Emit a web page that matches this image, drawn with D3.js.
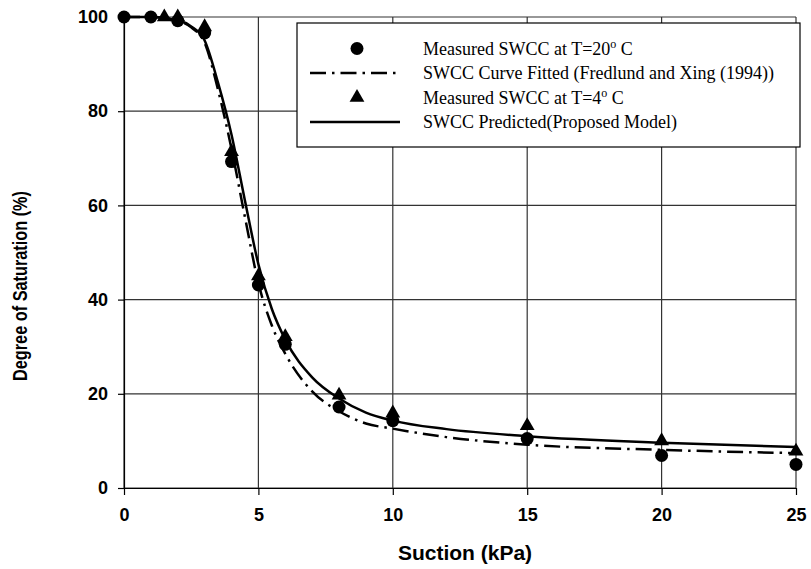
<!DOCTYPE html>
<meta charset="utf-8">
<style>
  body { margin: 0; background: #fff; }
  .axis text { font: bold 18px Arial, "Liberation Sans", sans-serif; fill: #000; }
  .axis path, .axis line { stroke: #000; stroke-width: 1.2; }
  .grid line { stroke: #333; stroke-width: 1.2; }
  .legend text { font: 18px "Times New Roman", "Liberation Serif", serif; fill: #000; }
</style>
<svg width="811" height="569"></svg>
<script src="https://cdn.jsdelivr.net/npm/d3@7"></script>
<script>
// measured points, T = 20 C (circles)
var suction20 = [0, 1, 2, 3, 4, 5, 6, 8, 10, 15, 20, 25];
var sat20     = [100, 100, 99.2, 96.6, 69.3, 43.1, 30.5, 17.2, 14.3, 10.5, 6.9, 5.0];

// measured points, T = 4 C (triangles)
var suction4 = [1.5, 2, 3, 4, 5, 6, 8, 10, 15, 20, 25];
var sat4     = [100, 100, 97.9, 71.4, 45.0, 32.1, 19.7, 15.9, 13.2, 10.0, 7.8];

// fitted curve, Fredlund and Xing (1994) (dash-dot)
var fitX = [0, 1, 2, 2.5, 3, 3.5, 4, 4.5, 5, 5.5, 6, 7, 8, 9, 10, 12, 15, 20, 25];
var fitY = [100, 100, 99.2, 97.8, 94.5, 84.5, 72, 57.5, 43.5, 34.5, 28.5, 20.5, 16.3, 13.7, 12.6, 10.8, 9.2, 8.1, 7.4];

// predicted curve, proposed model (solid)
var predX = [0, 1, 2, 2.5, 3, 3.5, 4, 4.5, 5, 5.5, 6, 7, 8, 9, 10, 12, 15, 20, 25];
var predY = [100, 100, 99.3, 98, 95, 86, 75, 61, 47.5, 38, 31.5, 23.5, 19, 16, 14.3, 12.5, 11, 9.6, 8.7];

var xTicks = [0, 5, 10, 15, 20, 25];
var yTicks = [0, 20, 40, 60, 80, 100];

var legendLabels = [
  "Measured SWCC at T=20|o| C",
  "SWCC Curve Fitted (Fredlund and Xing (1994))",
  "Measured SWCC at T=4|o| C",
  "SWCC Predicted(Proposed Model)"
];

var svg = d3.select("svg"),
    margin = {top: 17, right: 15, bottom: 81, left: 124},
    width = +svg.attr("width") - margin.left - margin.right,
    height = +svg.attr("height") - margin.top - margin.bottom,
    g = svg.append("g").attr("transform", "translate(" + margin.left + "," + margin.top + ")");

var x = d3.scaleLinear().domain([0, 25]).range([0, width]);
var y = d3.scaleLinear().domain([0, 100]).range([height, 0]);

// grid
var grid = g.append("g").attr("class", "grid");
grid.selectAll(".vx").data(xTicks).enter().append("line")
    .attr("x1", d => x(d)).attr("x2", d => x(d))
    .attr("y1", 0).attr("y2", height);
grid.selectAll(".hy").data(yTicks).enter().append("line")
    .attr("x1", 0).attr("x2", width)
    .attr("y1", d => y(d)).attr("y2", d => y(d));

// axes
g.append("g")
    .attr("class", "axis")
    .attr("transform", "translate(0," + height + ")")
    .call(d3.axisBottom(x).tickValues(xTicks).tickSize(7).tickPadding(13).tickSizeOuter(0));

g.append("g")
    .attr("class", "axis")
    .call(d3.axisLeft(y).tickValues(yTicks).tickSize(6).tickPadding(10).tickSizeOuter(0));

// curves
var line = d3.line()
    .x(d => x(d[0]))
    .y(d => y(d[1]))
    .curve(d3.curveMonotoneX);

var fitData = fitX.map((v, i) => [v, fitY[i]]);
var predData = predX.map((v, i) => [v, predY[i]]);

g.append("path")
    .datum(fitData)
    .attr("fill", "none")
    .attr("stroke", "#000")
    .attr("stroke-width", 2.5)
    .attr("stroke-dasharray", "16,6,2.5,6")
    .attr("d", line);

g.append("path")
    .datum(predData)
    .attr("fill", "none")
    .attr("stroke", "#000")
    .attr("stroke-width", 2.5)
    .attr("d", line);

// markers
var tri = d3.symbol().type(d3.symbolTriangle).size(95);

g.append("g").selectAll("circle")
    .data(suction20.map((v, i) => [v, sat20[i]]))
    .enter().append("circle")
    .attr("cx", d => x(d[0]))
    .attr("cy", d => y(d[1]))
    .attr("r", 6.5)
    .attr("fill", "#000");

g.append("g").selectAll("path")
    .data(suction4.map((v, i) => [v, sat4[i]]))
    .enter().append("path")
    .attr("transform", d => "translate(" + x(d[0]) + "," + y(d[1]) + ")")
    .attr("d", tri)
    .attr("fill", "#000");

// axis titles
svg.append("text")
    .attr("x", 465)
    .attr("y", 560)
    .attr("text-anchor", "middle")
    .style("font", "bold 21px Arial, 'Liberation Sans', sans-serif")
    .text("Suction (kPa)");

svg.append("text")
    .attr("transform", "translate(27,286) rotate(-90)")
    .attr("text-anchor", "middle")
    .attr("textLength", 190)
    .attr("lengthAdjust", "spacingAndGlyphs")
    .style("font", "bold 20px Arial, 'Liberation Sans', sans-serif")
    .text("Degree of Saturation (%)");

// legend
var lg = svg.append("g").attr("class", "legend");
lg.append("rect")
    .attr("x", 297).attr("y", 23)
    .attr("width", 503).attr("height", 124)
    .attr("fill", "#fff")
    .attr("stroke", "#000")
    .attr("stroke-width", 1.2);

var rowY = [48.5, 73, 97.5, 122];
var rows = lg.selectAll(".row").data(legendLabels).enter().append("g")
    .attr("transform", (d, i) => "translate(0," + rowY[i] + ")");

rows.each(function(d, i) {
  var r = d3.select(this);
  if (i === 0) {
    r.append("circle").attr("cx", 357).attr("cy", 0).attr("r", 6.5).attr("fill", "#000");
  } else if (i === 2) {
    r.append("path").attr("transform", "translate(357,0)").attr("d", tri).attr("fill", "#000");
  } else {
    r.append("line").attr("x1", 310).attr("x2", 400).attr("y1", 0).attr("y2", 0)
      .attr("stroke", "#000").attr("stroke-width", 2.5)
      .attr("stroke-dasharray", i === 1 ? "16,6,2.5,6" : null);
  }
  var t = r.append("text").attr("x", 423).attr("y", 6);
  d.split("|").forEach(function(part, k) {
    var ts = t.append("tspan").text(part);
    if (k === 1) ts.attr("dy", -7).style("font-size", "12px");
    if (k === 2) ts.attr("dy", 7);
  });
});
</script>
